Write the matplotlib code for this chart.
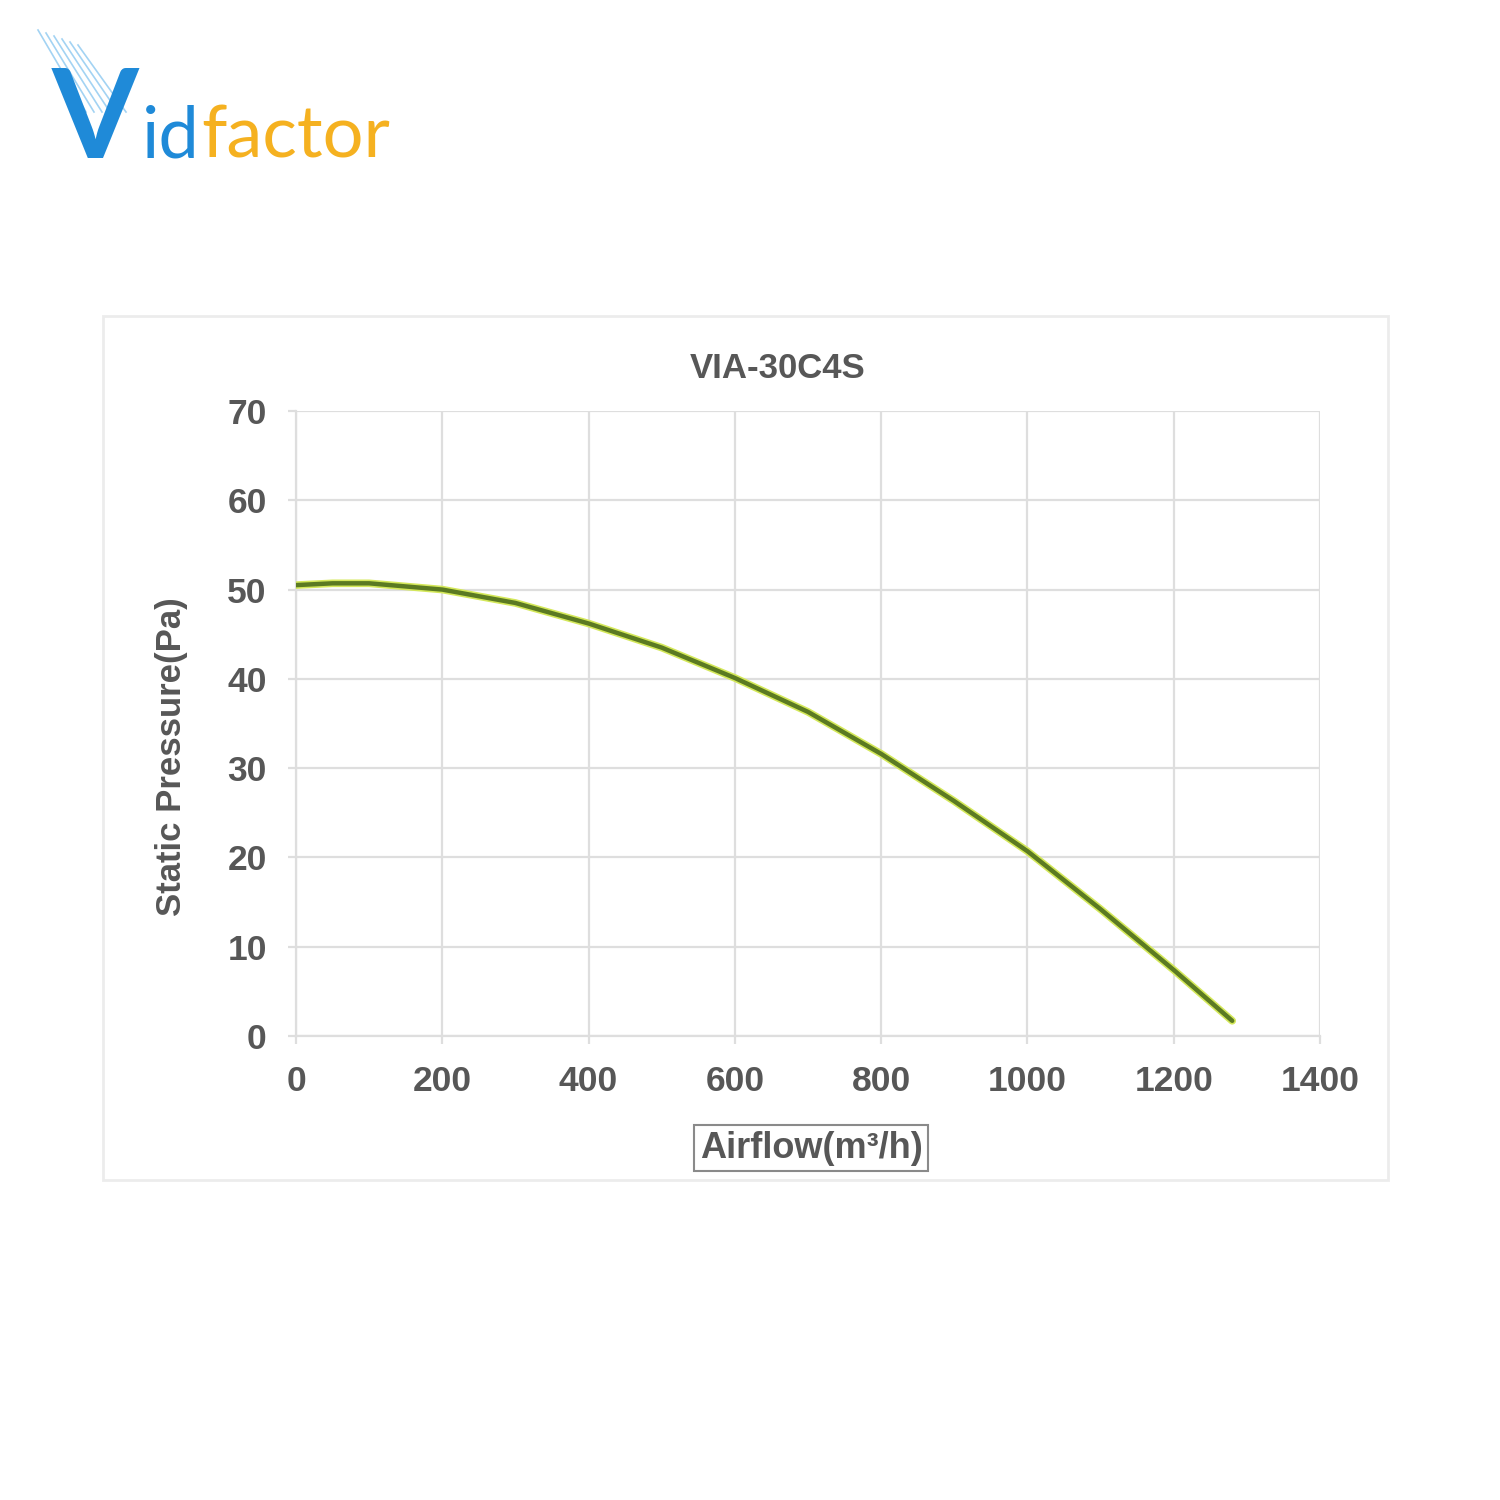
import numpy as np
import matplotlib
matplotlib.use("Agg")
import matplotlib.pyplot as plt
from matplotlib.patches import Rectangle
from matplotlib.lines import Line2D

# data
title = "VIA-30C4S"
airflow = [0, 50, 100, 200, 300, 400, 500, 600, 700, 800, 900, 1000, 1100, 1200, 1280]
pressure = [50.5, 50.7, 50.7, 50.0, 48.5, 46.2, 43.5, 40.1, 36.3, 31.6, 26.3, 20.7, 14.2, 7.4, 1.7]
x_ticks = [0, 200, 400, 600, 800, 1000, 1200, 1400]
y_ticks = [0, 10, 20, 30, 40, 50, 60, 70]

W = 1500.0
txt_col = "#575757"
grid_col = "#dedede"

plt.rcParams['font.family'] = ['Liberation Sans', 'DejaVu Sans']

fig = plt.figure(figsize=(15, 15), dpi=100)
fig.patch.set_facecolor("white")

# outer chart frame
fig.add_artist(Rectangle((103/W, 1-1180/W), 1285/W, 864/W, transform=fig.transFigure,
                         fill=False, ec="#ececec", lw=2))

ax = fig.add_axes([296/W, 1-1036/W, 1024/W, 625/W])
ax.plot(airflow, pressure, color="#d4e85a", lw=5.5, solid_capstyle="round",
        solid_joinstyle="round", zorder=3)
ax.plot(airflow, pressure, color="#5b7a22", lw=3.2, solid_capstyle="round",
        solid_joinstyle="round", zorder=4)

ax.set_xlim(0, 1400)
ax.set_ylim(0, 70)
ax.set_xticks(x_ticks)
ax.set_yticks(y_ticks)
ax.grid(True, color=grid_col, lw=1.6)
for s in ["top", "right"]:
    ax.spines[s].set_visible(False)
for s in ["left", "bottom"]:
    ax.spines[s].set_color(grid_col)
    ax.spines[s].set_linewidth(1.6)
ax.tick_params(axis="both", length=6, width=1.6, color=grid_col,
               labelsize=25.5, labelcolor=txt_col, pad=15)
for lab in ax.get_xticklabels() + ax.get_yticklabels():
    lab.set_fontweight("bold")

fig.text(778/W, 1-369/W, title, ha="center", va="center", fontsize=25,
         fontweight="bold", color=txt_col)
fig.text(172/W, 1-757/W, "Static Pressure(Pa)", ha="center", va="center",
         rotation=90, fontsize=25, fontweight="bold", color=txt_col)
fig.text(811/W, 1-1148/W, "Airflow(m³/h)", ha="center", va="center", fontsize=26,
         fontweight="bold", color=txt_col,
         bbox=dict(boxstyle="square,pad=0.15", fc="white", ec="#8a8a8a", lw=1.5))

# logo
for i in range(6):
    x0 = 38 + i*8
    fig.add_artist(Line2D([x0/W, (x0+48)/W], [1-(30+i*3)/W, 1-112/W],
                          transform=fig.transFigure, color="#8cc8f0", lw=1.2, alpha=0.8))
fig.text(52/W, 1-158/W, "V", fontsize=90, fontweight="bold", color="#1f8ad8",
         family="Lato", ha="left", va="baseline")
t1 = fig.text(142/W, 1-157/W, "id", fontsize=52, color="#1f8ad8",
              family="Lato", ha="left", va="baseline")
t2 = fig.text(0, 0, "factor", fontsize=52, color="#f5b120", family="Lato",
              ha="left", va="baseline")

fig.canvas.draw()
bb = t1.get_window_extent()
t2.set_position(((bb.x1 + 1)/W, 1-157/W))

fig.savefig("out.png", dpi=100, facecolor="white")
